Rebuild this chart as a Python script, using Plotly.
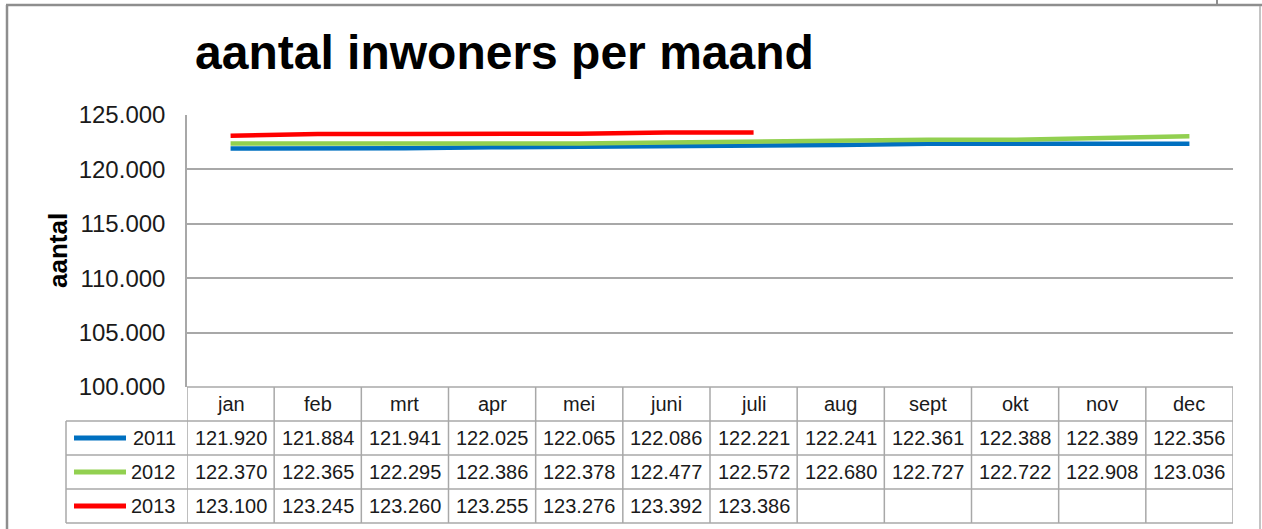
import plotly.graph_objects as go

# ---------------- data ----------------
months = ["jan", "feb", "mrt", "apr", "mei", "juni", "juli", "aug", "sept", "okt", "nov", "dec"]
years = ["2011", "2012", "2013"]
values_2011 = [121920, 121884, 121941, 122025, 122065, 122086, 122221, 122241, 122361, 122388, 122389, 122356]
values_2012 = [122370, 122365, 122295, 122386, 122378, 122477, 122572, 122680, 122727, 122722, 122908, 123036]
values_2013 = [123100, 123245, 123260, 123255, 123276, 123392, 123386]
colors = ["#0070C0", "#92D050", "#FF0000"]
y_ticks = [100000, 105000, 110000, 115000, 120000, 125000]

title_text = "aantal inwoners per maand"
y_title = "aantal"

series = [values_2011, values_2012, values_2013]

# ---------------- layout geometry ----------------
W, H = 1262, 529
L, R, T, B = 187, 1233, 115, 387   # plot area in pixels
FONT = "Liberation Sans, Arial, sans-serif"
GRID = "#A8A8A8"


def px2x(px):
    return (px - L) / (R - L)


def py2y(py):
    return (B - py) / (B - T)


def fmt(v):
    return f"{v:,}".replace(",", ".")


fig = go.Figure()
for name, vals, col in zip(years, series, colors):
    fig.add_trace(go.Scatter(
        x=months[:len(vals)], y=vals, mode="lines", name=name,
        line=dict(color=col, width=4.5), showlegend=False, hoverinfo="x+y+name"))

shapes = []
annotations = []

# table rows : header row + 3 data rows, 34 px each
row_h = 34
row_edges = [B + i * row_h for i in range(5)]  # 387, 421, 455, 489, 523
table_left_px = 66

# horizontal table lines
shapes.append(dict(type="line", xref="paper", yref="paper", x0=0, x1=1,
                   y0=py2y(row_edges[0]), y1=py2y(row_edges[0]), line=dict(color=GRID, width=1.5)))
for e in row_edges[1:]:
    shapes.append(dict(type="line", xref="paper", yref="paper", x0=px2x(table_left_px), x1=1,
                       y0=py2y(e), y1=py2y(e), line=dict(color=GRID, width=1.5)))
# vertical lines at category boundaries (through the x axis)
for k in range(len(months) + 1):
    shapes.append(dict(type="line", xref="x", yref="paper", x0=k - 0.5, x1=k - 0.5,
                       y0=py2y(row_edges[0]), y1=py2y(row_edges[-1]), line=dict(color=GRID, width=1.5)))
# left edge of legend column
shapes.append(dict(type="line", xref="paper", yref="paper", x0=px2x(table_left_px), x1=px2x(table_left_px),
                   y0=py2y(row_edges[1]), y1=py2y(row_edges[-1]), line=dict(color=GRID, width=1.5)))

# header months
for i, m in enumerate(months):
    annotations.append(dict(x=m, xref="x", yref="paper",
                            y=py2y((row_edges[0] + row_edges[1]) / 2), text=m, showarrow=False,
                            xanchor="center", yanchor="middle", font=dict(family=FONT, size=20, color="#1a1a1a")))

# data rows
for r, (name, vals, col) in enumerate(zip(years, series, colors)):
    yc = py2y((row_edges[r + 1] + row_edges[r + 2]) / 2)
    shapes.append(dict(type="line", xref="paper", yref="paper", x0=px2x(74), x1=px2x(126),
                       y0=yc, y1=yc, line=dict(color=col, width=5)))
    annotations.append(dict(x=px2x(178), xref="paper", yref="paper", y=yc, text=name, showarrow=False,
                            xanchor="right", yanchor="middle", font=dict(family=FONT, size=20, color="#1a1a1a")))
    for i, v in enumerate(vals):
        annotations.append(dict(x=months[i], xref="x", yref="paper", y=yc, text=fmt(v), showarrow=False,
                                xanchor="center", yanchor="middle",
                                font=dict(family=FONT, size=20, color="#1a1a1a")))

# title and y-axis title
annotations.append(dict(x=px2x(193), y=py2y(53), xref="paper", yref="paper", text=f"<b>{title_text}</b>",
                        showarrow=False, xanchor="left", yanchor="middle",
                        font=dict(family=FONT, size=48, color="#000000")))
annotations.append(dict(x=px2x(58), y=py2y(251), xref="paper", yref="paper", text=f"<b>{y_title}</b>",
                        showarrow=False, xanchor="center", yanchor="middle", textangle=-90,
                        font=dict(family=FONT, size=26, color="#000000")))

# outer frame (spreadsheet/chart border)
FR = "#8E8E8E"
shapes.append(dict(type="line", xref="paper", yref="paper", x0=px2x(7), x1=px2x(7),
                   y0=py2y(5), y1=py2y(540), line=dict(color=FR, width=2.5)))
shapes.append(dict(type="line", xref="paper", yref="paper", x0=px2x(6), x1=px2x(1262),
                   y0=py2y(5), y1=py2y(5), line=dict(color=FR, width=2.5)))
shapes.append(dict(type="line", xref="paper", yref="paper", x0=px2x(1260), x1=px2x(1260),
                   y0=py2y(6), y1=py2y(540), line=dict(color="#B0B0B0", width=1.5)))
shapes.append(dict(type="line", xref="paper", yref="paper", x0=px2x(1217), x1=px2x(1217),
                   y0=py2y(-2), y1=py2y(5), line=dict(color=FR, width=2)))

fig.update_layout(
    width=W, height=H,
    margin=dict(l=L, r=W - R, t=T, b=H - B, pad=0),
    paper_bgcolor="white", plot_bgcolor="white",
    separators=",.",
    showlegend=False,
    xaxis=dict(type="category", categoryorder="array", categoryarray=months, range=[-0.5, len(months) - 0.5],
               showticklabels=False, showgrid=False, zeroline=False, showline=False, ticks=""),
    yaxis=dict(range=[y_ticks[0], y_ticks[-1]], tickvals=y_ticks, tickformat=",d",
               showgrid=True, gridcolor=GRID, gridwidth=1.5, zeroline=False,
               showline=True, linecolor=GRID, linewidth=1.5, ticks="", ticklabelstandoff=15,
               tickfont=dict(family=FONT, size=24, color="#1a1a1a")),
    shapes=shapes, annotations=annotations,
)

fig.write_html("out.html", config={"displayModeBar": False},
               post_script="document.body.style.margin='0';document.body.style.overflow='hidden';")
